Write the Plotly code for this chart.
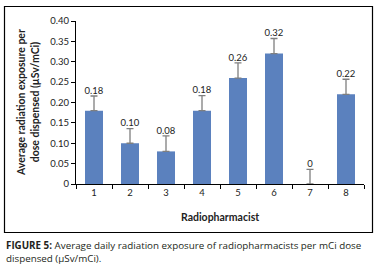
import plotly.graph_objects as go

categories = ["1", "2", "3", "4", "5", "6", "7", "8"]
values = [0.18, 0.10, 0.08, 0.18, 0.26, 0.32, 0.0, 0.22]
errors = [0.036, 0.036, 0.038, 0.037, 0.037, 0.037, 0.036, 0.037]
labels = ["0.18", "0.10", "0.08", "0.18", "0.26", "0.32", "0", "0.22"]
ytick_vals = [0, 0.05, 0.10, 0.15, 0.20, 0.25, 0.30, 0.35, 0.40]
ytick_text = ["0", "0.05", "0.10", "0.15", "0.20", "0.25", "0.30", "0.35", "0.40"]

FONT = "Lato"
W, H = 380, 271
L, R, T, B = 76, 16, 21, 87
pw, ph = W - L - R, H - T - B


def px_x(px):
    return (px - L) / pw


def px_y(py):
    return (H - B - py) / ph


fig = go.Figure()
fig.add_trace(go.Bar(
    x=categories, y=values,
    marker=dict(color="#5B81BE", line=dict(width=0)),
    error_y=dict(type="data", array=errors, symmetric=False,
                 arrayminus=[0] * len(errors),
                 color="#7F7F7F", thickness=1.3, width=3.5),
    hoverinfo="skip",
))
fig.add_trace(go.Scatter(
    x=categories, y=[v + e for v, e in zip(values, errors)],
    mode="text", text=labels, textposition="top center",
    textfont=dict(family=FONT, size=9.5, color="#222222"),
    hoverinfo="skip",
))

fig.update_layout(
    width=W, height=H,
    margin=dict(l=L, r=R, t=T, b=B, pad=0),
    paper_bgcolor="white", plot_bgcolor="white",
    showlegend=False, bargap=0.5,
    font=dict(family=FONT, size=9, color="#222222"),
    xaxis=dict(type="category", showline=True, linecolor="black", linewidth=1,
               ticks="outside", tickson="boundaries", ticklen=4,
               tickcolor="black", showgrid=False, zeroline=False,
               tickfont=dict(family=FONT, size=9.5, color="#222222")),
    yaxis=dict(range=[0, 0.40], showline=True, linecolor="black", linewidth=1,
               ticks="outside", ticklen=4, tickcolor="black",
               tickvals=ytick_vals, ticktext=ytick_text,
               showgrid=False, zeroline=False,
               tickfont=dict(family=FONT, size=9.5, color="#222222")),
    shapes=[dict(type="rect", xref="paper", yref="paper",
                 x0=px_x(4.5), x1=px_x(372.5), y0=px_y(232.5), y1=px_y(6.5),
                 line=dict(color="black", width=1.2), fillcolor="rgba(0,0,0,0)")],
    annotations=[
        dict(text="<b>Average radiation exposure per<br>dose dispensed (µSv/mCi)</b>",
             xref="paper", yref="paper", x=px_x(27.5), y=0.5, textangle=-90,
             showarrow=False, font=dict(family=FONT, size=10.5, color="#222222"),
             xanchor="center", yanchor="middle"),
        dict(text="<b>Radiopharmacist</b>", xref="paper", yref="paper",
             x=0.5, y=px_y(217), showarrow=False,
             font=dict(family=FONT, size=10.5, color="#222222"),
             xanchor="center", yanchor="middle"),
        dict(text="<b>FIGURE 5:</b> Average daily radiation exposure of radiopharmacists per mCi dose<br>dispensed (µSv/mCi).",
             xref="paper", yref="paper", x=px_x(4), y=px_y(237), showarrow=False,
             align="left", xanchor="left", yanchor="top",
             font=dict(family="Open Sans", size=9.8, color="#231F20")),
    ],
)

fig.write_html("out.html", config={"displayModeBar": False},
               post_script="document.body.style.margin='0';")
